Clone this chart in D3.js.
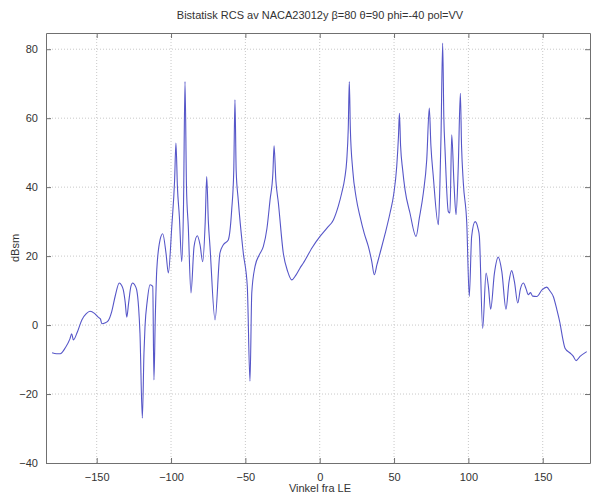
<!DOCTYPE html>
<html>
<head>
<meta charset="utf-8">
<script src="https://cdn.jsdelivr.net/npm/d3@7"></script>
<style>
  body { margin: 0; background: #fff; }
  text { font-family: "Liberation Sans", Arial, sans-serif; fill: #333; }
</style>
</head>
<body>
<div id="chart"></div>
<script>
// angle from leading edge (deg) and bistatic RCS (dBsm)
const angles = [
  -180, -177, -174.5, -171, -168, -166.8, -165.7, -163, -160, -157, -154.5, -151.5,
  -149, -147.5, -146.6, -144.5, -142.2, -139.9, -137.5, -134.8, -133.4, -132.1, -130.8,
  -129.8, -128.5, -127, -125.8, -124.4, -123.1, -121.8, -120.9, -119.3, -118.2, -117.5,
  -116, -114.1, -112.3, -111.5, -110.6, -109.6, -107.4, -105.6, -103.4, -101.8, -99.5,
  -97.6, -96.7, -95.7, -94.4, -92.8, -91.6, -90.6, -89.6, -88.4, -86.6, -84.5, -82.3,
  -80.5, -78.7, -77, -76, -74.9, -73.8, -70.4, -67.1, -64.8, -61.5, -59.2, -57.8, -57,
  -56.2, -54.8, -51.4, -48.7, -46.9, -45.7, -43.5, -40.5, -37.9, -35.5, -33.4, -31.5,
  -30.7, -29.5, -27.8, -24.5, -21.5, -18.8, -16, -13.3, -11, -5, 0.2, 5, 9.2, 12.5,
  14.8, 16.8, 18.2, 19.2, 19.9, 20.6, 22.2, 24.5, 27.1, 30, 32.7, 35, 36.7, 38.5, 40.6,
  44, 47.3, 49.8, 51.8, 53, 53.6, 54.4, 55.8, 57.4, 60.7, 64.8, 67, 69.7, 72, 73.7,
  74.8, 76.4, 79.8, 80.8, 81.6, 82.7, 83.5, 84.3, 86.5, 87.6, 88.8, 90.3, 91.7, 93.2,
  94.6, 95.4, 96.6, 98.9, 100.6, 102.2, 104.5, 106.5, 107.4, 109.6, 111.9, 113.5, 115,
  117.5, 120.1, 122.5, 125.3, 127.3, 129.1, 131, 133.2, 135, 137, 138.8, 140.3, 141.8,
  143.2, 146, 149.5, 152.7, 155, 157.1, 159.5, 161.6, 163.5, 165, 168.4, 170.5, 172.4,
  175.1, 179.6
];
const rcs = [
  -8, -8.3, -8.3, -6.5, -4, -2.5, -4.3, -2, 1.5, 3.3, 4, 3.4,
  2.3, 1.8, 0.4, 0.6, 1.3, 3.9, 8.5, 12.2, 11.6, 10.2, 6.5,
  2.3, 6.5, 11.2, 12.2, 11.6, 10.2, 5, -2.3, -27, -8, -0.4,
  7, 11.7, 11.2, -15.9, 2, 16, 24.7, 26.5, 20.9, 15.1, 28.6,
  42, 52.8, 40, 31.5, 18.4, 35, 70.6, 40, 28.6, 9.3, 22.8, 25.9,
  23.3, 18.4, 30, 43.1, 30, 22.8, 1.5, 20.9, 23.3, 24.7, 33.4, 45, 65.3,
  45, 36.3, 20.9, 11.2, -16.3, 9.3, 17, 20.5, 22.8, 28, 36.3, 44,
  52, 42, 35.4, 20.9, 15.5, 13.1, 14.5, 16.5, 18, 22.5, 25.7, 28.2, 30.5, 34.5,
  38.3, 42.5, 47.9, 57, 70.6, 57, 45, 37, 31.5, 26.5, 22.8, 18.5, 14.6, 17.5, 20.9,
  26.5, 32.5, 38, 46, 55, 61.4, 52, 45, 39.2, 32.5, 25.7, 31, 38.3, 48, 62.9,
  52, 43.1, 29.1, 40, 55, 81.8, 60, 50.8, 32.9, 32.5, 55.2, 41.2, 32, 46,
  67.2, 52, 41.2, 29.6, 8.3, 25.7, 30, 28, 25.7, -1, 15.1, 11, 4.6,
  15, 19.7, 15.5, 4.6, 12.5, 15.8, 12.5, 6.4, 10.5, 12.2, 10.5, 8.8, 9.4,
  8.4, 8.3, 10.2, 11, 9.8, 8.3, 4.5, 0.6, -4, -6.7, -8.1, -9, -10.3,
  -9.1, -7.7
];
const xTicks = [-150, -100, -50, 0, 50, 100, 150];
const yTicks = [-40, -20, 0, 20, 40, 60, 80];

const titleText = "Bistatisk RCS av NACA23012y \u03B2=80 \u03B8=90 phi=-40 pol=VV";

const width = 593;
const height = 494;
const plotLeft = 46, plotRight = 590, plotTop = 33, plotBottom = 463;

const svg = d3.select('#chart')
    .append('svg')
    .attr('width', width)
    .attr('height', height);

const x = d3.scaleLinear()
    .domain([-184.1, 181.8])
    .range([plotLeft, plotRight]);

const y = d3.scaleLinear()
    .domain([-40, 84.7])
    .range([plotBottom, plotTop]);

// dotted grid
const grid = svg.append('g');
grid.selectAll('.gx')
    .data(xTicks)
    .enter()
    .append('line')
    .attr('x1', d => x(d)).attr('x2', d => x(d))
    .attr('y1', plotTop).attr('y2', plotBottom)
    .attr('stroke', '#c8c8c8')
    .attr('stroke-width', 1)
    .attr('stroke-dasharray', '1,2');
grid.selectAll('.gy')
    .data(yTicks.filter(d => d > -40))
    .enter()
    .append('line')
    .attr('x1', plotLeft).attr('x2', plotRight)
    .attr('y1', d => y(d)).attr('y2', d => y(d))
    .attr('stroke', '#c8c8c8')
    .attr('stroke-width', 1)
    .attr('stroke-dasharray', '1,2');

// the curve
const line = d3.line()
    .x((d, i) => x(angles[i]))
    .y(d => y(d))
    .curve(d3.curveMonotoneX);

svg.append('path')
    .datum(rcs)
    .attr('d', line)
    .attr('fill', 'none')
    .attr('stroke', '#5656c8')
    .attr('stroke-width', 1.1);

// axes, ticks pointing inward like MATLAB
const axisColor = '#707070';
const xAxis = svg.append('g')
    .attr('transform', `translate(0,${plotBottom})`)
    .call(d3.axisBottom(x).tickValues(xTicks).tickSizeInner(-5).tickSizeOuter(0).tickPadding(10));
const xAxisTop = svg.append('g')
    .attr('transform', `translate(0,${plotTop})`)
    .call(d3.axisTop(x).tickValues(xTicks).tickSizeInner(-5).tickSizeOuter(0).tickFormat(''));
const yAxis = svg.append('g')
    .attr('transform', `translate(${plotLeft},0)`)
    .call(d3.axisLeft(y).tickValues(yTicks).tickSizeInner(-5).tickSizeOuter(0).tickPadding(8));
const yAxisRight = svg.append('g')
    .attr('transform', `translate(${plotRight},0)`)
    .call(d3.axisRight(y).tickValues(yTicks).tickSizeInner(-5).tickSizeOuter(0).tickFormat(''));

[xAxis, xAxisTop, yAxis, yAxisRight].forEach(g => {
    g.select('.domain').attr('stroke', axisColor);
    g.selectAll('.tick line').attr('stroke', axisColor);
    g.selectAll('.tick text')
        .style('font-size', '11px')
        .style('font-family', '"Liberation Sans", Arial, sans-serif')
        .attr('fill', '#333');
});

// labels
svg.append('text')
    .attr('x', 320)
    .attr('y', 19)
    .attr('text-anchor', 'middle')
    .style('font-size', '11px')
    .text(titleText);

svg.append('text')
    .attr('x', 320)
    .attr('y', 492)
    .attr('text-anchor', 'middle')
    .style('font-size', '11px')
    .text('Vinkel fra LE');

svg.append('text')
    .attr('transform', `translate(19,${(plotTop + plotBottom) / 2}) rotate(-90)`)
    .attr('text-anchor', 'middle')
    .style('font-size', '11px')
    .text('dBsm');
</script>
</body>
</html>
